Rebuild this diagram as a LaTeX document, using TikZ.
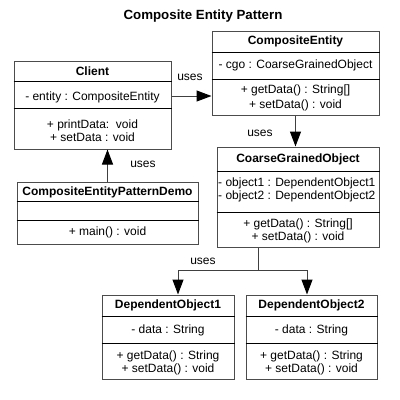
\documentclass[tikz,border=0pt]{standalone}
\usepackage{fontspec}
\setmainfont{Liberation Sans}
\usetikzlibrary{arrows.meta}
\newcommand\umlfont{\fontsize{12}{13}\selectfont}
\tikzset{
  umlbox/.style={draw=gray!60!black, line width=1pt, inner sep=0pt},
  sep/.style={draw=black, line width=0.8pt},
  link/.style={draw=gray!50!black, line width=1pt},
  uses/.style={link, -{Triangle[length=15pt,width=11pt,color=black]}},
  head/.style={font=\umlfont\bfseries, inner sep=0pt},
  member/.style={font=\umlfont, align=center, inner sep=0pt},
}
\begin{document}
\begin{tikzpicture}[x=1pt,y=-1pt]
\useasboundingbox (0,0) rectangle (400,400);
% Title
\node[font=\fontsize{13.3}{15}\selectfont\bfseries] (title) at (203,16) {Composite Entity Pattern};
% Draw boxes
\node[umlbox, minimum width=167, minimum height=84] (ce) at (295.5,73) {};
\node[umlbox, minimum width=157, minimum height=88] (client) at (92.5,105) {};
\node[umlbox, minimum width=162, minimum height=100] (cgo) at (298,197) {};
\node[umlbox, minimum width=181, minimum height=62] (demo) at (107.5,213) {};
\node[umlbox, minimum width=132, minimum height=84] (do1) at (168,337) {};
\node[umlbox, minimum width=131, minimum height=84] (do2) at (311.5,337) {};
% Draw separators
\draw[sep] (ce.west |- 0,52) -- (ce.east |- 0,52);
\draw[sep] (ce.west |- 0,79) -- (ce.east |- 0,79);
\draw[sep] (client.west |- 0,81) -- (client.east |- 0,81);
\draw[sep] (client.west |- 0,108) -- (client.east |- 0,108);
\draw[sep] (cgo.west |- 0,171) -- (cgo.east |- 0,171);
\draw[sep] (cgo.west |- 0,212) -- (cgo.east |- 0,212);
\draw[sep] (demo.west |- 0,201) -- (demo.east |- 0,201);
\draw[sep] (demo.west |- 0,220) -- (demo.east |- 0,220);
\draw[sep] (do1.west |- 0,316) -- (do1.east |- 0,316);
\draw[sep] (do1.west |- 0,343) -- (do1.east |- 0,343);
\draw[sep] (do2.west |- 0,316) -- (do2.east |- 0,316);
\draw[sep] (do2.west |- 0,343) -- (do2.east |- 0,343);
% CompositeEntity
\node[head] (ceName) at (295.5,41.5) {CompositeEntity};
\node[member] (ceAttr) at (295.5,65) {- cgo : CoarseGrainedObject};
\node[member] (ceOps) at (295.5,98) {+ getData() : String[]\\[1.5pt] + setData() : void};
% Client
\node[head] (clientName) at (92.5,71) {Client};
\node[member] (clientAttr) at (92.5,97.5) {- entity : CompositeEntity};
\node[member] (clientOps) at (92.5,130.5) {+ printData:\ \ void\\ + setData : void};
% CoarseGrainedObject
\node[head] (cgoName) at (298,159) {CoarseGrainedObject};
\node[member, anchor=west, align=left] (cgoAttr) at (218,190) {- object1 : DependentObject1\\ - object2 : DependentObject2};
\node[member] (cgoOps) at (298,230.5) {+ getData() : String[]\\ + setData() : void};
% CompositeEntityPatternDemo
\node[head] (demoName) at (107.5,192) {CompositeEntityPatternDemo};
\node[member] (demoOps) at (107.5,232) {+ main() : void};
% DependentObject1 and DependentObject2
\node[head] (do1Name) at (168,305) {DependentObject1};
\node[member] (do1Attr) at (168,330) {- data : String};
\node[member] (do1Ops) at (168,363) {+ getData() : String\\ + setData() : void};
\node[head] (do2Name) at (311.5,305) {DependentObject2};
\node[member] (do2Attr) at (311.5,330) {- data : String};
\node[member] (do2Ops) at (311.5,363) {+ getData() : String\\ + setData() : void};
% Draw connectors
\draw[uses] (client.east |- 0,96) -- (ce.west |- 0,96);
\draw[uses] (ce.south) -- (ce.south |- cgo.north);
\draw[uses] (demo.north) -- (demo.north |- client.south);
\coordinate (split) at (258,270);
\coordinate (left) at (178,270);
\coordinate (right) at (307,270);
\draw[link] (cgo.south -| split) -- (split);
\draw[link] (left) -- (right);
\draw[uses] (left) -- (left |- do1.north);
\draw[uses] (right) -- (right |- do2.north);
% Labels
\node[member] (uses1) at (190,77) {uses};
\node[member] (uses2) at (260,133) {uses};
\node[member] (uses3) at (143,164) {uses};
\node[member] (uses4) at (203,261) {uses};
\end{tikzpicture}
\end{document}
